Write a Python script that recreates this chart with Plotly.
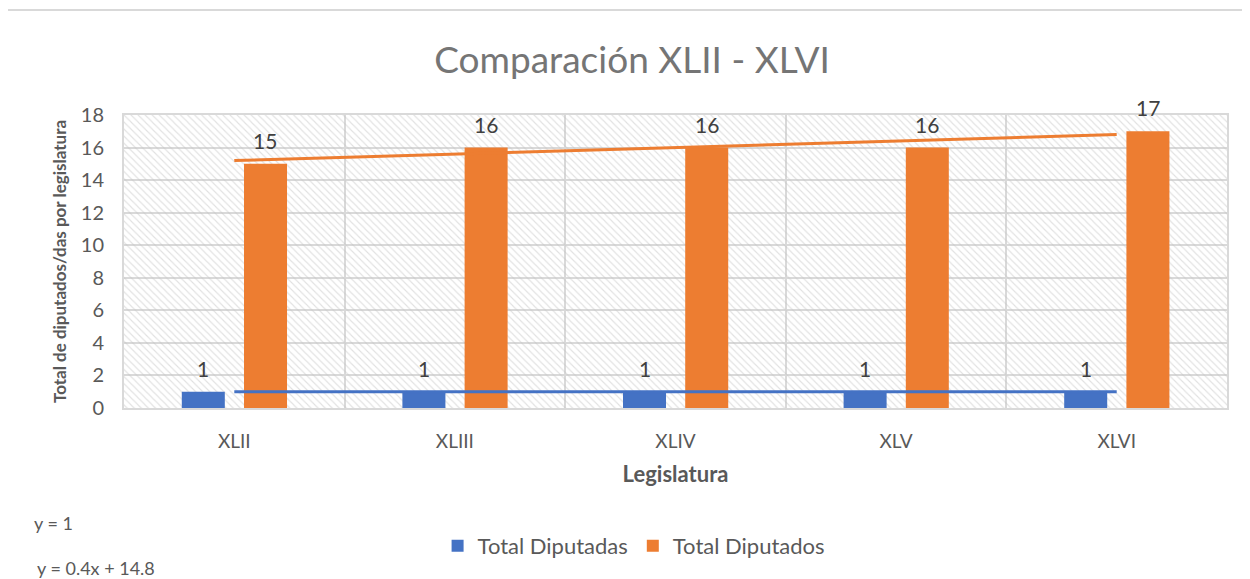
import numpy as np
import plotly.graph_objects as go

# datos
legislaturas = ["XLII", "XLIII", "XLIV", "XLV", "XLVI"]
total_diputadas = [1, 1, 1, 1, 1]
total_diputados = [15, 16, 16, 16, 17]
y_ticks = [0, 2, 4, 6, 8, 10, 12, 14, 16, 18]

azul = "#4472C4"
naranja = "#ED7D31"
gris = "#595959"
linea = "#d9d9d9"
fuente = "Lato"

# lineas de tendencia (minimos cuadrados, x = 1..n como en Excel)
xs = np.arange(1, len(legislaturas) + 1)
m_a, b_a = np.polyfit(xs, total_diputadas, 1)
m_o, b_o = np.polyfit(xs, total_diputados, 1)
tend_a = m_a * xs + b_a
tend_o = m_o * xs + b_o


def ecuacion(m, b):
    if abs(m) < 1e-9:
        return "y = %g" % round(b, 4)
    return "y = %gx + %g" % (round(m, 4), round(b, 4))


fig = go.Figure()

# fondo rayado del area de trazado
fig.add_trace(go.Bar(
    x=legislaturas, y=[y_ticks[-1]] * len(legislaturas),
    width=1, offset=-0.5,
    marker=dict(color="rgba(0,0,0,0)", line_width=0,
                pattern=dict(shape="\\", fgcolor="#c4c4c4", bgcolor="rgba(0,0,0,0)",
                             size=5, solidity=0.22)),
    hoverinfo="skip", showlegend=False,
))

fig.add_trace(go.Bar(
    x=legislaturas, y=total_diputadas, name="Total Diputadas",
    width=0.195, offset=-0.238, marker=dict(color=azul, line_width=0),
))
fig.add_trace(go.Bar(
    x=legislaturas, y=total_diputados, name="Total Diputados",
    width=0.195, offset=0.044, marker=dict(color=naranja, line_width=0),
))

fig.add_trace(go.Scatter(
    x=legislaturas, y=tend_a, mode="lines", line=dict(color=azul, width=3),
    showlegend=False, hoverinfo="skip",
))
fig.add_trace(go.Scatter(
    x=legislaturas, y=tend_o, mode="lines", line=dict(color=naranja, width=3),
    showlegend=False, hoverinfo="skip",
))

# etiquetas de datos
for cat, va, vo in zip(legislaturas, total_diputadas, total_diputados):
    fig.add_annotation(x=cat, y=va, text=str(va), showarrow=False, xshift=-31,
                       yanchor="bottom", yshift=9,
                       font=dict(size=21, color="#404040", family=fuente))
    fig.add_annotation(x=cat, y=vo, text=str(vo), showarrow=False, xshift=31,
                       yanchor="bottom", yshift=9,
                       font=dict(size=21, color="#404040", family=fuente))

# ecuaciones de tendencia
fig.add_annotation(xref="paper", yref="paper", x=-0.083, y=-0.392,
                   xanchor="left", yanchor="middle",
                   text=ecuacion(m_a, b_a), showarrow=False,
                   font=dict(size=18, color=gris, family=fuente))
fig.add_annotation(xref="paper", yref="paper", x=-0.081, y=-0.546,
                   xanchor="left", yanchor="middle",
                   text=ecuacion(m_o, b_o), showarrow=False,
                   font=dict(size=18, color=gris, family=fuente))

# borde superior del grafico
fig.add_shape(type="line", xref="paper", yref="paper", x0=-0.2, x1=1.2, y0=1.358, y1=1.358,
              line=dict(color=linea, width=2))

# la pagina desplaza el grafico 8 px (margen del body), se compensa aqui
fig.update_layout(
    width=1242, height=571,
    margin=dict(l=116, r=23, t=107, b=171),
    paper_bgcolor="white", plot_bgcolor="white",
    barmode="overlay",
    font=dict(family=fuente, color=gris),
    title=dict(text="Comparación XLII - XLVI", x=624 / 1242, xanchor="center",
               y=1 - 52 / 571, yanchor="middle", yref="container",
               font=dict(size=37, color="#757575", family=fuente)),
    legend=dict(orientation="h", x=0.462, xanchor="center", y=-0.471, yanchor="middle",
                font=dict(size=22, color=gris, family=fuente), itemwidth=30,
                traceorder="normal"),
    xaxis=dict(
        type="category", range=[-0.5, len(legislaturas) - 0.5],
        tickson="boundaries", showgrid=True, gridcolor=linea, gridwidth=2,
        showline=True, linecolor=linea, linewidth=2, mirror=True,
        ticks="", ticklabelstandoff=15,
        tickfont=dict(size=19, color=gris),
        title=dict(text="<b>Legislatura</b>", font=dict(size=22, color=gris), standoff=16),
    ),
    yaxis=dict(
        range=[y_ticks[0], y_ticks[-1]], tickvals=y_ticks,
        showgrid=True, gridcolor=linea, gridwidth=2, zeroline=False,
        showline=True, linecolor=linea, linewidth=2, mirror=True,
        ticks="", ticklabelstandoff=14,
        tickfont=dict(size=20, color=gris),
        title=dict(text="<b>Total de diputados/das por legislatura</b>",
                   font=dict(size=17, color=gris), standoff=10),
    ),
)

fig.write_html("out.html")
